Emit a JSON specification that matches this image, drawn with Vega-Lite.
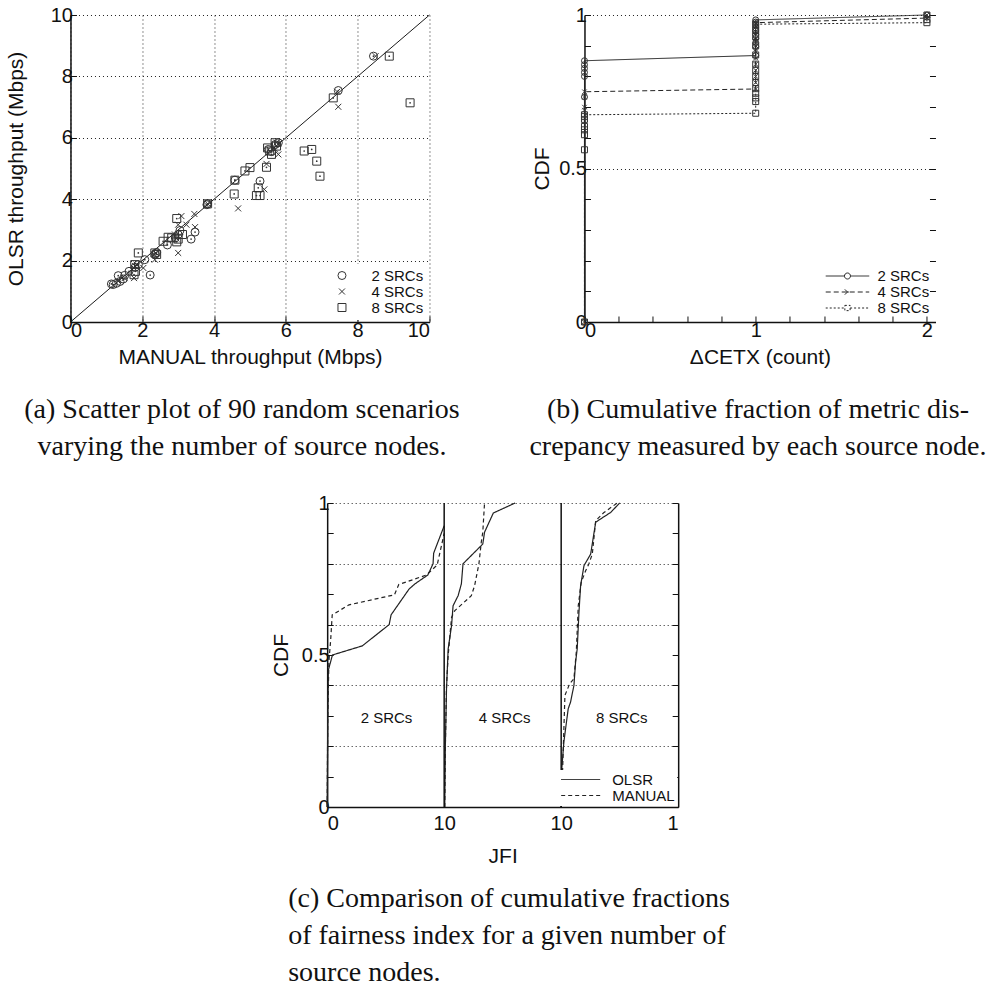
{
  "$schema": "https://vega.github.io/schema/vega-lite/v6.json",
  "background": "white",
  "padding": 5,
  "config": {
    "view": {"stroke": null},
    "axis": {
      "labelFont": "Liberation Sans", "titleFont": "Liberation Sans",
      "labelFontSize": 20, "titleFontSize": 21, "titleFontWeight": "normal",
      "labelColor": "#111", "titleColor": "#111",
      "domainColor": "#111", "domainWidth": 1.5,
      "tickColor": "#111", "tickSize": -6, "tickWidth": 1,
      "labelPadding": 4, "labelOverlap": false,
      "gridColor": "#222", "gridDash": [1, 3], "gridWidth": 1, "gridOpacity": 1
    },
    "legend": {"labelFont": "Liberation Sans", "labelColor": "#111"},
    "title": {"font": "Liberation Serif", "fontSize": 28, "fontWeight": "normal", "color": "#111", "lineHeight": 37}
  },
  "datasets": {
    "diag": [{"x": 0, "y": 0}, {"x": 10, "y": 10}],
    "scatter": [
      {"s": "2 SRCs", "x": 8.44, "y": 8.66}, {"s": "2 SRCs", "x": 7.46, "y": 7.54}, {"s": "2 SRCs", "x": 5.28, "y": 4.59},
      {"s": "2 SRCs", "x": 3.36, "y": 2.7}, {"s": "2 SRCs", "x": 3.47, "y": 2.93}, {"s": "2 SRCs", "x": 2.7, "y": 2.51},
      {"s": "2 SRCs", "x": 2.22, "y": 1.53}, {"s": "2 SRCs", "x": 2.07, "y": 2.03}, {"s": "2 SRCs", "x": 1.33, "y": 1.51},
      {"s": "2 SRCs", "x": 1.14, "y": 1.24}, {"s": "2 SRCs", "x": 1.19, "y": 1.22}, {"s": "2 SRCs", "x": 1.28, "y": 1.26},
      {"s": "2 SRCs", "x": 1.38, "y": 1.32}, {"s": "2 SRCs", "x": 1.51, "y": 1.52}, {"s": "2 SRCs", "x": 1.63, "y": 1.65},
      {"s": "2 SRCs", "x": 1.8, "y": 1.78}, {"s": "2 SRCs", "x": 1.89, "y": 1.87}, {"s": "2 SRCs", "x": 2.36, "y": 2.22},
      {"s": "2 SRCs", "x": 2.92, "y": 2.74}, {"s": "2 SRCs", "x": 3.0, "y": 2.85}, {"s": "2 SRCs", "x": 3.05, "y": 2.98},
      {"s": "2 SRCs", "x": 3.82, "y": 3.85}, {"s": "2 SRCs", "x": 4.58, "y": 4.62}, {"s": "2 SRCs", "x": 5.51, "y": 5.62},
      {"s": "2 SRCs", "x": 5.7, "y": 5.78}, {"s": "2 SRCs", "x": 5.79, "y": 5.84}, {"s": "2 SRCs", "x": 1.47, "y": 1.4},
      {"s": "2 SRCs", "x": 2.4, "y": 2.26}, {"s": "2 SRCs", "x": 3.8, "y": 3.82}, {"s": "2 SRCs", "x": 5.6, "y": 5.55},
      {"s": "4 SRCs", "x": 8.5, "y": 8.66}, {"s": "4 SRCs", "x": 7.46, "y": 7.01}, {"s": "4 SRCs", "x": 7.43, "y": 7.5},
      {"s": "4 SRCs", "x": 5.79, "y": 5.46}, {"s": "4 SRCs", "x": 5.46, "y": 5.15}, {"s": "4 SRCs", "x": 5.4, "y": 4.32},
      {"s": "4 SRCs", "x": 4.67, "y": 3.7}, {"s": "4 SRCs", "x": 3.45, "y": 3.52}, {"s": "4 SRCs", "x": 3.47, "y": 3.09},
      {"s": "4 SRCs", "x": 3.23, "y": 3.17}, {"s": "4 SRCs", "x": 3.09, "y": 3.45}, {"s": "4 SRCs", "x": 3.0, "y": 2.25},
      {"s": "4 SRCs", "x": 3.0, "y": 3.17}, {"s": "4 SRCs", "x": 2.35, "y": 2.03}, {"s": "4 SRCs", "x": 2.33, "y": 2.2},
      {"s": "4 SRCs", "x": 2.03, "y": 1.76}, {"s": "4 SRCs", "x": 1.77, "y": 1.43}, {"s": "4 SRCs", "x": 1.77, "y": 1.76},
      {"s": "4 SRCs", "x": 1.84, "y": 1.87}, {"s": "4 SRCs", "x": 3.82, "y": 3.85}, {"s": "4 SRCs", "x": 5.74, "y": 5.84},
      {"s": "4 SRCs", "x": 5.7, "y": 5.62}, {"s": "4 SRCs", "x": 2.91, "y": 2.85}, {"s": "4 SRCs", "x": 1.33, "y": 1.33},
      {"s": "4 SRCs", "x": 1.51, "y": 1.43}, {"s": "4 SRCs", "x": 2.95, "y": 2.72}, {"s": "4 SRCs", "x": 5.79, "y": 5.8},
      {"s": "4 SRCs", "x": 1.8, "y": 1.82}, {"s": "4 SRCs", "x": 2.38, "y": 2.25}, {"s": "4 SRCs", "x": 3.8, "y": 3.8},
      {"s": "8 SRCs", "x": 8.88, "y": 8.66}, {"s": "8 SRCs", "x": 9.46, "y": 7.14}, {"s": "8 SRCs", "x": 7.32, "y": 7.3},
      {"s": "8 SRCs", "x": 6.95, "y": 4.75}, {"s": "8 SRCs", "x": 6.86, "y": 5.24}, {"s": "8 SRCs", "x": 6.72, "y": 5.62},
      {"s": "8 SRCs", "x": 6.51, "y": 5.57}, {"s": "8 SRCs", "x": 5.74, "y": 5.73}, {"s": "8 SRCs", "x": 5.6, "y": 5.46},
      {"s": "8 SRCs", "x": 5.49, "y": 5.67}, {"s": "8 SRCs", "x": 5.46, "y": 5.04}, {"s": "8 SRCs", "x": 5.55, "y": 5.57},
      {"s": "8 SRCs", "x": 5.23, "y": 4.37}, {"s": "8 SRCs", "x": 5.18, "y": 4.12}, {"s": "8 SRCs", "x": 5.28, "y": 4.12},
      {"s": "8 SRCs", "x": 4.56, "y": 4.17}, {"s": "8 SRCs", "x": 4.58, "y": 4.62}, {"s": "8 SRCs", "x": 4.86, "y": 4.92},
      {"s": "8 SRCs", "x": 5.0, "y": 5.03}, {"s": "8 SRCs", "x": 3.82, "y": 3.85}, {"s": "8 SRCs", "x": 2.96, "y": 3.37},
      {"s": "8 SRCs", "x": 2.96, "y": 2.61}, {"s": "8 SRCs", "x": 3.12, "y": 2.85}, {"s": "8 SRCs", "x": 2.82, "y": 2.74},
      {"s": "8 SRCs", "x": 2.72, "y": 2.76}, {"s": "8 SRCs", "x": 2.58, "y": 2.63}, {"s": "8 SRCs", "x": 1.89, "y": 2.25},
      {"s": "8 SRCs", "x": 2.35, "y": 2.25}, {"s": "8 SRCs", "x": 1.79, "y": 1.87}, {"s": "8 SRCs", "x": 1.81, "y": 1.65},
      {"s": "8 SRCs", "x": 1.77, "y": 1.54}, {"s": "8 SRCs", "x": 5.7, "y": 5.84}, {"s": "8 SRCs", "x": 2.4, "y": 2.2},
      {"s": "8 SRCs", "x": 3.0, "y": 2.7}
    ],
    "cdf": [
      {"s": "2 SRCs", "i": 0, "x": 0, "y": 0}, {"s": "2 SRCs", "i": 1, "x": 0, "y": 0.733}, {"s": "2 SRCs", "i": 2, "x": 0, "y": 0.8},
      {"s": "2 SRCs", "i": 3, "x": 0, "y": 0.813}, {"s": "2 SRCs", "i": 4, "x": 0, "y": 0.826}, {"s": "2 SRCs", "i": 5, "x": 0, "y": 0.838},
      {"s": "2 SRCs", "i": 6, "x": 0, "y": 0.851}, {"s": "2 SRCs", "i": 7, "x": 1, "y": 0.868}, {"s": "2 SRCs", "i": 8, "x": 1, "y": 0.897},
      {"s": "2 SRCs", "i": 9, "x": 1, "y": 0.91}, {"s": "2 SRCs", "i": 10, "x": 1, "y": 0.923}, {"s": "2 SRCs", "i": 11, "x": 1, "y": 0.936},
      {"s": "2 SRCs", "i": 12, "x": 1, "y": 0.948}, {"s": "2 SRCs", "i": 13, "x": 1, "y": 0.958}, {"s": "2 SRCs", "i": 14, "x": 1, "y": 0.968},
      {"s": "2 SRCs", "i": 15, "x": 1, "y": 0.977}, {"s": "2 SRCs", "i": 16, "x": 1, "y": 0.984}, {"s": "2 SRCs", "i": 17, "x": 2, "y": 1.0},
      {"s": "4 SRCs", "i": 0, "x": 0, "y": 0}, {"s": "4 SRCs", "i": 1, "x": 0, "y": 0.69}, {"s": "4 SRCs", "i": 2, "x": 0, "y": 0.7},
      {"s": "4 SRCs", "i": 3, "x": 0, "y": 0.733}, {"s": "4 SRCs", "i": 4, "x": 0, "y": 0.75}, {"s": "4 SRCs", "i": 5, "x": 1, "y": 0.759},
      {"s": "4 SRCs", "i": 6, "x": 1, "y": 0.78}, {"s": "4 SRCs", "i": 7, "x": 1, "y": 0.8}, {"s": "4 SRCs", "i": 8, "x": 1, "y": 0.82},
      {"s": "4 SRCs", "i": 9, "x": 1, "y": 0.84}, {"s": "4 SRCs", "i": 10, "x": 1, "y": 0.86}, {"s": "4 SRCs", "i": 11, "x": 1, "y": 0.88},
      {"s": "4 SRCs", "i": 12, "x": 1, "y": 0.9}, {"s": "4 SRCs", "i": 13, "x": 1, "y": 0.92}, {"s": "4 SRCs", "i": 14, "x": 1, "y": 0.94},
      {"s": "4 SRCs", "i": 15, "x": 1, "y": 0.96}, {"s": "4 SRCs", "i": 16, "x": 1, "y": 0.975}, {"s": "4 SRCs", "i": 17, "x": 2, "y": 0.99},
      {"s": "4 SRCs", "i": 18, "x": 2, "y": 1.0},
      {"s": "8 SRCs", "i": 0, "x": 0, "y": 0}, {"s": "8 SRCs", "i": 1, "x": 0, "y": 0.561}, {"s": "8 SRCs", "i": 2, "x": 0, "y": 0.61},
      {"s": "8 SRCs", "i": 3, "x": 0, "y": 0.626}, {"s": "8 SRCs", "i": 4, "x": 0, "y": 0.637}, {"s": "8 SRCs", "i": 5, "x": 0, "y": 0.66},
      {"s": "8 SRCs", "i": 6, "x": 0, "y": 0.669}, {"s": "8 SRCs", "i": 7, "x": 0, "y": 0.675}, {"s": "8 SRCs", "i": 8, "x": 1, "y": 0.68},
      {"s": "8 SRCs", "i": 9, "x": 1, "y": 0.718}, {"s": "8 SRCs", "i": 10, "x": 1, "y": 0.73}, {"s": "8 SRCs", "i": 11, "x": 1, "y": 0.745},
      {"s": "8 SRCs", "i": 12, "x": 1, "y": 0.76}, {"s": "8 SRCs", "i": 13, "x": 1, "y": 0.78}, {"s": "8 SRCs", "i": 14, "x": 1, "y": 0.8},
      {"s": "8 SRCs", "i": 15, "x": 1, "y": 0.82}, {"s": "8 SRCs", "i": 16, "x": 1, "y": 0.84}, {"s": "8 SRCs", "i": 17, "x": 1, "y": 0.87},
      {"s": "8 SRCs", "i": 18, "x": 1, "y": 0.9}, {"s": "8 SRCs", "i": 19, "x": 1, "y": 0.93}, {"s": "8 SRCs", "i": 20, "x": 1, "y": 0.95},
      {"s": "8 SRCs", "i": 21, "x": 1, "y": 0.97}, {"s": "8 SRCs", "i": 22, "x": 2, "y": 0.975}, {"s": "8 SRCs", "i": 23, "x": 2, "y": 0.985},
      {"s": "8 SRCs", "i": 24, "x": 2, "y": 1.0}
    ],
    "jfi": [
      {"g": "2-OLSR", "m": "OLSR", "i": 0, "x": 0, "y": 0}, {"g": "2-OLSR", "m": "OLSR", "i": 1, "x": 0.005, "y": 0.3},
      {"g": "2-OLSR", "m": "OLSR", "i": 2, "x": 0.01, "y": 0.45}, {"g": "2-OLSR", "m": "OLSR", "i": 3, "x": 0.045, "y": 0.5},
      {"g": "2-OLSR", "m": "OLSR", "i": 4, "x": 0.3, "y": 0.53}, {"g": "2-OLSR", "m": "OLSR", "i": 5, "x": 0.53, "y": 0.6},
      {"g": "2-OLSR", "m": "OLSR", "i": 6, "x": 0.546, "y": 0.632}, {"g": "2-OLSR", "m": "OLSR", "i": 7, "x": 0.7, "y": 0.717},
      {"g": "2-OLSR", "m": "OLSR", "i": 8, "x": 0.75, "y": 0.734}, {"g": "2-OLSR", "m": "OLSR", "i": 9, "x": 0.86, "y": 0.763},
      {"g": "2-OLSR", "m": "OLSR", "i": 10, "x": 0.905, "y": 0.8}, {"g": "2-OLSR", "m": "OLSR", "i": 11, "x": 0.91, "y": 0.835},
      {"g": "2-OLSR", "m": "OLSR", "i": 12, "x": 1.0, "y": 0.925},
      {"g": "2-MAN", "m": "MANUAL", "i": 0, "x": 0, "y": 0}, {"g": "2-MAN", "m": "MANUAL", "i": 1, "x": 0.005, "y": 0.3},
      {"g": "2-MAN", "m": "MANUAL", "i": 2, "x": 0.015, "y": 0.48}, {"g": "2-MAN", "m": "MANUAL", "i": 3, "x": 0.03, "y": 0.55},
      {"g": "2-MAN", "m": "MANUAL", "i": 4, "x": 0.043, "y": 0.632}, {"g": "2-MAN", "m": "MANUAL", "i": 5, "x": 0.187, "y": 0.665},
      {"g": "2-MAN", "m": "MANUAL", "i": 6, "x": 0.575, "y": 0.698}, {"g": "2-MAN", "m": "MANUAL", "i": 7, "x": 0.612, "y": 0.732},
      {"g": "2-MAN", "m": "MANUAL", "i": 8, "x": 0.848, "y": 0.763}, {"g": "2-MAN", "m": "MANUAL", "i": 9, "x": 0.94, "y": 0.796},
      {"g": "2-MAN", "m": "MANUAL", "i": 10, "x": 1.0, "y": 0.9},
      {"g": "4-OLSR", "m": "OLSR", "i": 0, "x": 1.005, "y": 0}, {"g": "4-OLSR", "m": "OLSR", "i": 1, "x": 1.01, "y": 0.2},
      {"g": "4-OLSR", "m": "OLSR", "i": 2, "x": 1.02, "y": 0.389}, {"g": "4-OLSR", "m": "OLSR", "i": 3, "x": 1.034, "y": 0.52},
      {"g": "4-OLSR", "m": "OLSR", "i": 4, "x": 1.063, "y": 0.596}, {"g": "4-OLSR", "m": "OLSR", "i": 5, "x": 1.076, "y": 0.662},
      {"g": "4-OLSR", "m": "OLSR", "i": 6, "x": 1.119, "y": 0.695}, {"g": "4-OLSR", "m": "OLSR", "i": 7, "x": 1.147, "y": 0.734},
      {"g": "4-OLSR", "m": "OLSR", "i": 8, "x": 1.161, "y": 0.8}, {"g": "4-OLSR", "m": "OLSR", "i": 9, "x": 1.33, "y": 0.865},
      {"g": "4-OLSR", "m": "OLSR", "i": 10, "x": 1.345, "y": 0.904}, {"g": "4-OLSR", "m": "OLSR", "i": 11, "x": 1.42, "y": 0.967},
      {"g": "4-OLSR", "m": "OLSR", "i": 12, "x": 1.606, "y": 1.0},
      {"g": "4-MAN", "m": "MANUAL", "i": 0, "x": 1.005, "y": 0}, {"g": "4-MAN", "m": "MANUAL", "i": 1, "x": 1.01, "y": 0.2},
      {"g": "4-MAN", "m": "MANUAL", "i": 2, "x": 1.02, "y": 0.4}, {"g": "4-MAN", "m": "MANUAL", "i": 3, "x": 1.034, "y": 0.498},
      {"g": "4-MAN", "m": "MANUAL", "i": 4, "x": 1.063, "y": 0.624}, {"g": "4-MAN", "m": "MANUAL", "i": 5, "x": 1.091, "y": 0.646},
      {"g": "4-MAN", "m": "MANUAL", "i": 6, "x": 1.232, "y": 0.695}, {"g": "4-MAN", "m": "MANUAL", "i": 7, "x": 1.26, "y": 0.728},
      {"g": "4-MAN", "m": "MANUAL", "i": 8, "x": 1.297, "y": 0.8}, {"g": "4-MAN", "m": "MANUAL", "i": 9, "x": 1.317, "y": 0.871},
      {"g": "4-MAN", "m": "MANUAL", "i": 10, "x": 1.33, "y": 0.904}, {"g": "4-MAN", "m": "MANUAL", "i": 11, "x": 1.345, "y": 1.0},
      {"g": "8-OLSR", "m": "OLSR", "i": 0, "x": 2.0, "y": 0}, {"g": "8-OLSR", "m": "OLSR", "i": 1, "x": 2.003, "y": 0.115},
      {"g": "8-OLSR", "m": "OLSR", "i": 2, "x": 2.023, "y": 0.214}, {"g": "8-OLSR", "m": "OLSR", "i": 3, "x": 2.06, "y": 0.323},
      {"g": "8-OLSR", "m": "OLSR", "i": 4, "x": 2.08, "y": 0.345}, {"g": "8-OLSR", "m": "OLSR", "i": 5, "x": 2.109, "y": 0.4},
      {"g": "8-OLSR", "m": "OLSR", "i": 6, "x": 2.123, "y": 0.476}, {"g": "8-OLSR", "m": "OLSR", "i": 7, "x": 2.137, "y": 0.52},
      {"g": "8-OLSR", "m": "OLSR", "i": 8, "x": 2.152, "y": 0.64}, {"g": "8-OLSR", "m": "OLSR", "i": 9, "x": 2.166, "y": 0.728},
      {"g": "8-OLSR", "m": "OLSR", "i": 10, "x": 2.195, "y": 0.794}, {"g": "8-OLSR", "m": "OLSR", "i": 11, "x": 2.252, "y": 0.832},
      {"g": "8-OLSR", "m": "OLSR", "i": 12, "x": 2.295, "y": 0.937}, {"g": "8-OLSR", "m": "OLSR", "i": 13, "x": 2.423, "y": 0.969},
      {"g": "8-OLSR", "m": "OLSR", "i": 14, "x": 2.5, "y": 1.0},
      {"g": "8-MAN", "m": "MANUAL", "i": 0, "x": 2.0, "y": 0}, {"g": "8-MAN", "m": "MANUAL", "i": 1, "x": 2.009, "y": 0.082},
      {"g": "8-MAN", "m": "MANUAL", "i": 2, "x": 2.032, "y": 0.367}, {"g": "8-MAN", "m": "MANUAL", "i": 3, "x": 2.072, "y": 0.405},
      {"g": "8-MAN", "m": "MANUAL", "i": 4, "x": 2.109, "y": 0.422}, {"g": "8-MAN", "m": "MANUAL", "i": 5, "x": 2.129, "y": 0.509},
      {"g": "8-MAN", "m": "MANUAL", "i": 6, "x": 2.146, "y": 0.662}, {"g": "8-MAN", "m": "MANUAL", "i": 7, "x": 2.171, "y": 0.739},
      {"g": "8-MAN", "m": "MANUAL", "i": 8, "x": 2.209, "y": 0.777}, {"g": "8-MAN", "m": "MANUAL", "i": 9, "x": 2.237, "y": 0.8},
      {"g": "8-MAN", "m": "MANUAL", "i": 10, "x": 2.266, "y": 0.832}, {"g": "8-MAN", "m": "MANUAL", "i": 11, "x": 2.295, "y": 0.942},
      {"g": "8-MAN", "m": "MANUAL", "i": 12, "x": 2.366, "y": 0.969}, {"g": "8-MAN", "m": "MANUAL", "i": 13, "x": 2.48, "y": 1.0}
    ],
    "seps": [{"x": 1}, {"x": 2}],
    "labels": [{"t": "2 SRCs", "x": 0.507, "y": 0.292}, {"t": "4 SRCs", "x": 1.517, "y": 0.292}, {"t": "8 SRCs", "x": 2.518, "y": 0.292}]
  },
  "vconcat": [
    {
      "hconcat": [
        {
          "width": 359, "height": 307,
          "title": {"text": ["(a) Scatter plot of 90 random scenarios", "varying the number of source nodes."], "orient": "bottom", "anchor": "middle", "dx": -8, "offset": 29},
          "layer": [
            {
              "data": {"name": "diag"},
              "mark": {"type": "line", "color": "#1a1a1a", "strokeWidth": 1},
              "encoding": {
                "x": {"field": "x", "type": "quantitative", "scale": {"domain": [0, 10], "nice": false},
                      "axis": {"values": [0, 2, 4, 6, 8, 10], "title": "MANUAL throughput (Mbps)", "grid": true, "titlePadding": 6, "labelOverlap": false}},
                "y": {"field": "y", "type": "quantitative", "scale": {"domain": [0, 10], "nice": false},
                      "axis": {"values": [0, 2, 4, 6, 8, 10], "title": "OLSR throughput (Mbps)", "grid": true, "titlePadding": 24, "labelOverlap": false}}
              }
            },
            {
              "data": {"name": "scatter"},
              "mark": {"type": "point", "filled": false, "strokeWidth": 1, "color": "#333", "size": 64, "opacity": 1},
              "encoding": {
                "x": {"field": "x", "type": "quantitative"},
                "y": {"field": "y", "type": "quantitative"},
                "shape": {"field": "s", "type": "nominal",
                  "scale": {"domain": ["2 SRCs", "4 SRCs", "8 SRCs"], "range": ["circle", "M-0.75,-0.75L0.75,0.75M-0.75,0.75L0.75,-0.75", "square"]},
                  "legend": {"title": null, "orient": "bottom-right", "offset": 2, "fillColor": "white", "padding": 4,
                             "labelFontSize": 15, "symbolSize": 64, "symbolStrokeWidth": 1, "symbolStrokeColor": "#333",
                             "symbolFillColor": "transparent", "labelOffset": 22, "rowPadding": 0}}
              }
            },
            {
              "data": {"name": "scatter"},
              "transform": [{"filter": "datum.s != '4 SRCs'"}],
              "mark": {"type": "point", "filled": true, "size": 3, "color": "#333", "opacity": 1},
              "encoding": {
                "x": {"field": "x", "type": "quantitative"},
                "y": {"field": "y", "type": "quantitative"}
              }
            }
          ]
        },
        {
          "width": 351, "height": 307,
          "title": {"text": ["(b) Cumulative fraction of metric dis-", "crepancy measured by each source node."], "orient": "bottom", "anchor": "middle", "dx": -2, "offset": 29},
          "layer": [
            {
              "data": {"name": "cdf"},
              "mark": {"type": "line", "color": "#222", "strokeWidth": 1},
              "encoding": {
                "x": {"field": "x", "type": "quantitative", "scale": {"domain": [0, 2.05], "nice": false},
                      "axis": {"values": [0, 0.2, 0.4, 0.6, 0.8, 1, 1.2, 1.4, 1.6, 1.8, 2], "grid": false, "title": "ΔCETX (count)", "titlePadding": 6, "labelOverlap": false,
                               "labelExpr": "abs(datum.value) < 0.01 ? '0' : abs(datum.value - 1) < 0.01 ? '1' : abs(datum.value - 2) < 0.01 ? '2' : ''"}},
                "y": {"field": "y", "type": "quantitative", "scale": {"domain": [0, 1], "nice": false},
                      "axis": {"values": [0, 0.1, 0.2, 0.3, 0.4, 0.5, 0.6, 0.7, 0.8, 0.9, 1], "title": "CDF", "titlePadding": 6, "grid": true, "labelOverlap": false,
                               "gridOpacity": {"condition": {"test": "datum.value == 0.5 || datum.value == 1", "value": 1}, "value": 0},
                               "labelExpr": "datum.value == 0 ? '0' : datum.value == 0.5 ? '0.5' : datum.value == 1 ? '1' : ''"}},
                "strokeDash": {"field": "s", "type": "nominal",
                  "scale": {"domain": ["2 SRCs", "4 SRCs", "8 SRCs"], "range": [[1, 0], [5, 3], [2, 2]]},
                  "legend": {"title": null, "orient": "bottom-right", "offset": 4, "padding": 2, "labelFontSize": 15,
                             "symbolSize": 225, "symbolStrokeWidth": 1, "symbolStrokeColor": "#222", "symbolOffset": 14, "labelOffset": 22, "rowPadding": 0,
                             "encode": {"symbols": {"update": {"shape": {"signal": "datum.value === '2 SRCs' ? 'M-2.9,0L-0.4,0M0.4,0L2.9,0M-0.4,0A0.4,0.4 0 1,1 0.4,0A0.4,0.4 0 1,1 -0.4,0' : datum.value === '4 SRCs' ? 'M-2.9,0L2.9,0M-0.35,-0.35L0.35,0.35M-0.35,0.35L0.35,-0.35' : 'M-2.9,0L-0.35,0M0.35,0L2.9,0M-0.35,-0.35L0.35,-0.35L0.35,0.35L-0.35,0.35Z'"}}}}}},
                "order": {"field": "i", "type": "quantitative"}
              }
            },
            {
              "data": {"name": "cdf"},
              "transform": [{"filter": "datum.s == '2 SRCs'"}],
              "mark": {"type": "point", "shape": "circle", "filled": false, "strokeWidth": 1, "color": "#333", "size": 36, "opacity": 1},
              "encoding": {
                "x": {"field": "x", "type": "quantitative",
                      "axis": {"values": [0, 0.2, 0.4, 0.6, 0.8, 1, 1.2, 1.4, 1.6, 1.8, 2], "grid": false, "title": "ΔCETX (count)", "titlePadding": 6, "labelOverlap": false,
                               "labelExpr": "abs(datum.value) < 0.01 ? '0' : abs(datum.value - 1) < 0.01 ? '1' : abs(datum.value - 2) < 0.01 ? '2' : ''"}},
                "y": {"field": "y", "type": "quantitative",
                      "axis": {"orient": "right", "values": [0, 0.1, 0.2, 0.3, 0.4, 0.5, 0.6, 0.7, 0.8, 0.9, 1], "labels": false, "domain": false, "grid": false, "title": null}}
              }
            },
            {
              "data": {"name": "cdf"},
              "transform": [{"filter": "datum.s == '4 SRCs'"}],
              "mark": {"type": "point", "shape": "M-0.75,-0.75L0.75,0.75M-0.75,0.75L0.75,-0.75", "filled": false, "strokeWidth": 1, "color": "#333", "size": 36, "opacity": 1},
              "encoding": {
                "x": {"field": "x", "type": "quantitative",
                      "axis": {"values": [0, 0.2, 0.4, 0.6, 0.8, 1, 1.2, 1.4, 1.6, 1.8, 2], "grid": false, "title": "ΔCETX (count)", "titlePadding": 6, "labelOverlap": false,
                               "labelExpr": "abs(datum.value) < 0.01 ? '0' : abs(datum.value - 1) < 0.01 ? '1' : abs(datum.value - 2) < 0.01 ? '2' : ''"}},
                "y": {"field": "y", "type": "quantitative", "axis": null}
              }
            },
            {
              "data": {"name": "cdf"},
              "transform": [{"filter": "datum.s == '8 SRCs'"}],
              "mark": {"type": "point", "shape": "square", "filled": false, "strokeWidth": 1, "color": "#333", "size": 36, "opacity": 1},
              "encoding": {
                "x": {"field": "x", "type": "quantitative",
                      "axis": {"values": [0, 0.2, 0.4, 0.6, 0.8, 1, 1.2, 1.4, 1.6, 1.8, 2], "grid": false, "title": "ΔCETX (count)", "titlePadding": 6, "labelOverlap": false,
                               "labelExpr": "abs(datum.value) < 0.01 ? '0' : abs(datum.value - 1) < 0.01 ? '1' : abs(datum.value - 2) < 0.01 ? '2' : ''"}},
                "y": {"field": "y", "type": "quantitative", "axis": null}
              }
            }
          ],
          "resolve": {"axis": {"y": "independent"}}
        }
      ],
      "spacing": 155,
      "bounds": "flush",
      "resolve": {"scale": {"shape": "independent", "strokeDash": "independent"}, "legend": {"shape": "independent", "strokeDash": "independent"}}
    },
    {
      "width": 351, "height": 304,
      "title": {"text": ["(c) Comparison of cumulative fractions", "of fairness index for a given number of", "source nodes."], "orient": "bottom", "anchor": "start", "frame": "group", "dx": -39, "offset": 19},
      "layer": [
        {
          "data": {"name": "jfi"},
          "mark": {"type": "line", "color": "#222", "strokeWidth": 1.2},
          "encoding": {
            "x": {"field": "x", "type": "quantitative", "scale": {"domain": [0, 3], "nice": false},
                  "axis": {"values": [0, 1, 2, 3], "ticks": false, "grid": false, "title": "JFI", "titlePadding": 12, "labelPadding": 6, "labelOverlap": false,
                           "labelExpr": "datum.value == 0 ? '0' : datum.value == 3 ? '1' : '10'"}},
            "y": {"field": "y", "type": "quantitative", "scale": {"domain": [0, 1], "nice": false},
                  "axis": {"values": [0, 0.1, 0.2, 0.3, 0.4, 0.5, 0.6, 0.7, 0.8, 0.9, 1], "title": "CDF", "titlePadding": 10, "grid": true, "labelOverlap": false,
                           "gridOpacity": {"condition": {"test": "datum.value == 0.2 || datum.value == 0.4 || datum.value == 0.6 || datum.value == 0.8 || datum.value == 1", "value": 1}, "value": 0},
                           "labelExpr": "datum.value == 0 ? '0' : datum.value == 0.5 ? '0.5' : datum.value == 1 ? '1' : ''"}},
            "strokeDash": {"field": "m", "type": "nominal",
              "scale": {"domain": ["OLSR", "MANUAL"], "range": [[1, 0], [4, 3]]},
              "legend": {"title": null, "orient": "bottom-right", "offset": 1, "padding": 2, "fillColor": "white", "labelFontSize": 15,
                         "symbolType": "M-3,0L3,0", "symbolSize": 169, "symbolStrokeWidth": 1, "symbolStrokeColor": "#222",
                         "symbolOffset": 13, "labelOffset": 24, "rowPadding": -3}},
            "detail": {"field": "g", "type": "nominal"},
            "order": {"field": "i", "type": "quantitative"}
          }
        },
        {
          "data": {"name": "seps"},
          "mark": {"type": "rule", "color": "#111", "strokeWidth": 1.5},
          "encoding": {"x": {"field": "x", "type": "quantitative"}}
        },
        {
          "data": {"name": "labels"},
          "mark": {"type": "text", "font": "Liberation Sans", "fontSize": 15, "color": "#111"},
          "encoding": {
            "x": {"field": "x", "type": "quantitative"},
            "y": {"field": "y", "type": "quantitative",
                  "axis": {"orient": "right", "values": [0, 0.1, 0.2, 0.3, 0.4, 0.5, 0.6, 0.7, 0.8, 0.9, 1], "labels": false, "domain": true, "grid": false, "title": null}},
            "text": {"field": "t", "type": "nominal"}
          }
        }
      ],
      "resolve": {"axis": {"y": "independent"}}
    }
  ],
  "spacing": 32,
  "center": true,
  "resolve": {"scale": {"shape": "independent", "strokeDash": "independent"}, "legend": {"shape": "independent", "strokeDash": "independent"}}
}
